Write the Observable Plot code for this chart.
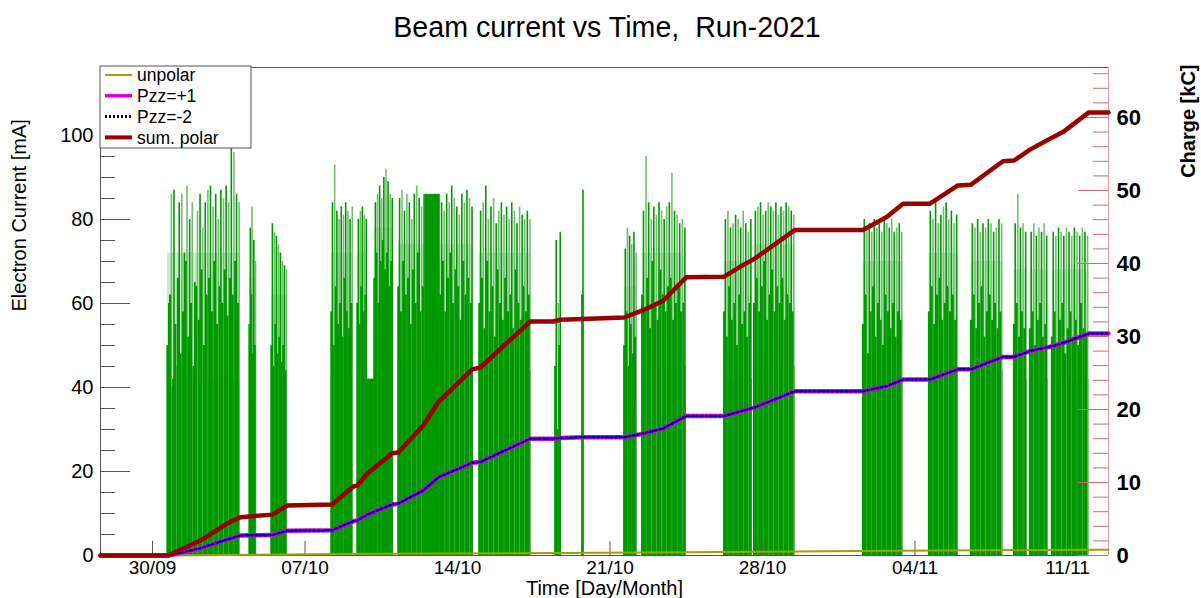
<!DOCTYPE html>
<html>
<head>
<meta charset="utf-8">
<script src="https://cdn.jsdelivr.net/npm/d3@7"></script>
<script src="https://cdn.jsdelivr.net/npm/@observablehq/plot@0.6"></script>
<style>
  body { margin: 0; background: #fff; font-family: "Liberation Sans", Arial, sans-serif; }
  #wrap { position: relative; width: 1201px; height: 598px; overflow: hidden; background: #fff; }
  #title { position: absolute; left: 0; top: 9px; width: 1188px; padding-left: 13px; text-align: center;
           font-size: 28.6px; line-height: 36px; white-space: pre; color: #000; }
  #chart { position: absolute; left: 0; top: 50px; }
  #legend { position: absolute; left: 99px; top: 65px; }
</style>
</head>
<body>
<div id="wrap">
  <div id="title">Beam current vs Time,  Run-2021</div>
  <div id="chart"></div>
  <svg id="legend" width="154" height="85"></svg>
</div>
<script>
// ---------------- data ----------------
const xDomain = ["2021-09-27T14:43", "2021-11-12T21:09"];
const mATicks = [0, 20, 40, 60, 80, 100];
const mAMinor = [5, 10, 15, 25, 30, 35, 45, 50, 55, 65, 70, 75, 85, 90, 95, 105, 110, 115];
const kCTicks = [0, 10, 20, 30, 40, 50, 60];
const kCMinor = [2, 4, 6, 8, 12, 14, 16, 18, 22, 24, 26, 28, 32, 34, 36, 38, 42, 44, 46, 48, 52, 54, 56, 58, 62, 64, 66];
const dateTicks = ["2021-09-30", "2021-10-07", "2021-10-14", "2021-10-21", "2021-10-28", "2021-11-04", "2021-11-11"];
const dateLabels = ["30/09", "07/10", "14/10", "21/10", "28/10", "04/11", "11/11"];

// beam-on blocks (electron current, mA)
const blockStart = ["2021-09-30T16:30","2021-10-04T10:48","2021-10-05T11:00","2021-10-08T05:04","2021-10-09T09:42","2021-10-09T20:41","2021-10-10T04:24","2021-10-11T06:49","2021-10-12T12:33","2021-10-13T05:04","2021-10-15T00:00","2021-10-18T11:40","2021-10-19T17:24","2021-10-21T15:38","2021-10-22T11:27","2021-10-26T05:44","2021-10-27T14:45","2021-11-01T14:45","2021-11-04T15:24","2021-11-06T13:40","2021-11-08T13:00","2021-11-09T06:36","2021-11-10T06:49"];
const blockEnd   = ["2021-10-04T00:53","2021-10-04T18:29","2021-10-06T04:38","2021-10-09T05:17","2021-10-09T20:41","2021-10-10T04:24","2021-10-11T01:19","2021-10-12T12:33","2021-10-13T05:04","2021-10-14T17:24","2021-10-17T09:14","2021-10-18T18:16","2021-10-19T19:03","2021-10-22T05:57","2021-10-24T11:53","2021-10-27T12:33","2021-10-29T11:53","2021-11-03T10:48","2021-11-05T23:20","2021-11-08T00:53","2021-11-09T03:19","2021-11-10T02:25","2021-11-11T23:34"];
const blockDense = [42, 36, 34, 42, 45, 42, 52, 46, 86, 46, 44, 0, 62, 36, 45, 42, 45, 42, 45, 44, 42, 42, 42];
const blockHaze  = [72, 66, 62, 72, 72, 42, 78, 74, 86, 74, 72, 0, 62, 64, 72, 70, 74, 70, 72, 70, 68, 68, 68];
const blockPeaks = [
  [60,86,87,45,84,86,72,88,80,84,65,82,86,78,84,87,88,83,86,80,87,85,88,84,97,96,86,84],
  [78,83,75,70],
  [79,77,76,74,72,70,69,68],
  [84,93,82,80,83,81,84,82,80,83],
  [80,82,83,81,80],
  [],
  [84,86,88,85,90,92,89,86,85],
  [85,87,82,86,84,80,86,88,85,83,86],
  [],
  [84,82,86,84,88,85,83,81,86,84,87,85,83],
  [82,84,88,80,83,85,79,82,84,81,83,80,84,82,79,83,81,80,82,80],
  [75,60,77],
  [87],
  [73,78,76,74,77,72],
  [82,95,84,80,83,81,84,82,80,83,84,91,82,81,79,80,78],
  [80,82,78,79,81,80,78,82,79,77,80],
  [82,83,84,81,82,84,83,82,84,81,83,82,84,83,82,81],
  [80,78,79,77,80,78,79,77,80,79,78,80,77,78,79,77],
  [82,80,84,79,81,83,84,80,82,79,81],
  [79,78,80,77,79,78,80,79,77,78,80,79],
  [79,86,78,79,77],
  [77,79,76,78,77,79,76],
  [77,76,78,77,76,78,77,76,78,77,76,78,77,76]
];
const blockLows = [
  [50,62,40,55,66,48,58,70,52,60,45,64,56,68,50,62,66,58,70,55,64,60,68,57,66,62,70,60],
  [55,62,48,50],
  [50,45,55,48,52,46,50,44],
  [58,50,64,55,60,52,66,58,54,60],
  [60,55,64,58,62],
  [],
  [66,72,60,70,75,68,72,64,70],
  [64,58,70,62,66,55,68,60,72,58,64],
  [],
  [62,70,58,66,72,60,68,64,56,70,62,66,60],
  [60,66,54,70,58,64,52,68,60,56,66,58,62,54,68,60,56,64,58,62],
  [45,30,50],
  [62],
  [50,58,45,55,48,52],
  [62,58,66,54,70,60,56,68,62,58,64,66,56,60,64,58,60],
  [58,52,64,56,60,50,62,55,58,52,60],
  [60,66,58,64,70,56,62,68,58,64,60,66,56,62,60,58],
  [55,62,48,58,64,52,60,56,50,62,58,54,60,52,58,56],
  [58,64,55,62,66,56,60,64,58,62,56],
  [56,62,54,60,64,52,58,62,56,60,54,58],
  [55,60,52,58,54],
  [54,58,50,56,60,52,55],
  [52,58,50,56,60,48,54,58,52,56,50,60,54,52]
];

// integrated charge (kC)
const chargeTime = ["2021-09-27T14:43","2021-09-30T17:30","2021-10-02T04:50","2021-10-03T10:34","2021-10-04T00:53","2021-10-05T12:07","2021-10-06T04:38","2021-10-08T06:10","2021-10-09T05:17","2021-10-09T09:42","2021-10-09T20:41","2021-10-11T00:13","2021-10-11T06:49","2021-10-12T10:20","2021-10-13T02:51","2021-10-14T16:17","2021-10-15T01:06","2021-10-17T08:08","2021-10-18T09:27","2021-10-18T17:10","2021-10-19T17:24","2021-10-21T15:38","2021-10-22T12:33","2021-10-23T10:34","2021-10-24T11:53","2021-10-26T05:44","2021-10-27T01:32","2021-10-27T15:50","2021-10-29T11:53","2021-11-01T14:45","2021-11-02T17:11","2021-11-03T10:48","2021-11-04T16:30","2021-11-05T23:20","2021-11-06T13:40","2021-11-08T00:53","2021-11-08T13:00","2021-11-09T06:36","2021-11-10T04:38","2021-11-10T18:56","2021-11-11T23:34","2021-11-12T21:09"];
const sumPolar = [0,0,2.05,4.4,5.25,5.6,6.85,7.0,9.45,9.6,11.2,14.0,14.1,17.8,21.0,25.5,25.75,32.05,32.05,32.3,32.4,32.6,33.6,34.9,38.1,38.2,39.7,40.7,44.6,44.6,46.4,48.2,48.2,50.7,50.8,54.0,54.1,55.6,57.1,58.0,60.7,60.7];
const pzzPlus1 = [0,0,1.0,2.2,2.75,2.8,3.4,3.45,4.7,4.8,5.6,7.0,7.1,8.9,10.7,12.7,12.8,16.0,16.0,16.1,16.2,16.2,16.7,17.4,19.1,19.1,19.8,20.3,22.5,22.5,23.2,24.1,24.1,25.5,25.5,27.2,27.2,28.0,28.6,29.1,30.4,30.4];
const pzzMinus2 = [0,0,1.0,2.2,2.75,2.8,3.4,3.45,4.7,4.8,5.6,7.0,7.1,8.9,10.7,12.7,12.8,16.0,16.0,16.1,16.2,16.2,16.7,17.4,19.1,19.1,19.8,20.3,22.5,22.5,23.2,24.1,24.1,25.5,25.5,27.2,27.2,28.0,28.6,29.1,30.4,30.4];
const unpolarTime = ["2021-09-27T14:43","2021-09-30T17:30","2021-10-10T11:00","2021-10-18T17:00","2021-10-27T23:30","2021-11-01T12:00","2021-11-11T23:34","2021-11-12T21:09"];
const unpolar = [0, 0, 0.25, 0.35, 0.5, 0.6, 0.8, 0.8];

const legendLabels = ["unpolar", "Pzz=+1", "Pzz=-2", "sum. polar"];

// ---------------- build ----------------
const T = s => new Date(s.length > 10 ? s + "Z" : s + "T00:00Z");
const W = 1201, H = 548, mL = 100, mR = 93, mT = 17, mB = 43;
const innerW = W - mL - mR, innerH = H - mT - mB;
const yMaxMA = 116.2, yMaxKC = 66.85;
const kc2ma = yMaxMA / yMaxKC;

const blocks = blockStart.map((s, i) => ({x1: T(s), x2: T(blockEnd[i]), dense: blockDense[i], haze: blockHaze[i]}));
const spikes = [], lows = [];
blocks.forEach((b, i) => {
  const n = blockPeaks[i].length;
  blockPeaks[i].forEach((v, j) => {
    spikes.push({t: new Date(+b.x1 + (j + 0.5) * (b.x2 - b.x1) / n), v, k: j % 2});
  });
  const m = blockLows[i].length;
  blockLows[i].forEach((v, j) => {
    lows.push({t: new Date(+b.x1 + j * (b.x2 - b.x1) / m), v});
  });
});
const charge = chargeTime.map((s, i) => ({t: T(s), sum: sumPolar[i], p1: pzzPlus1[i], m2: pzzMinus2[i]}));
const unp = unpolarTime.map((s, i) => ({t: T(s), v: unpolar[i]}));
const x0 = T(xDomain[0]), x1 = T(xDomain[1]);

const chart = Plot.plot({
  width: W, height: H,
  marginLeft: mL, marginRight: mR, marginTop: mT, marginBottom: mB,
  style: {fontFamily: "'Liberation Sans', Arial, sans-serif", background: "#fff", color: "#000", overflow: "visible"},
  x: {type: "utc", domain: [x0, x1], axis: null},
  y: {domain: [0, yMaxMA], axis: null},
  marks: [
    // electron current
    Plot.rect(blocks, {x1: "x1", x2: "x2", y1: "dense", y2: "haze", fill: "#009900", fillOpacity: 0.2}),
    Plot.rect(blocks, {x1: "x1", x2: "x2", y1: 0, y2: "dense", fill: "#009900"}),
    Plot.ruleX(spikes.filter(d => d.k === 1), {x: "t", y1: 0, y2: "v", stroke: "#72bf72", strokeWidth: 1.6}),
    Plot.ruleX(spikes.filter(d => d.k === 0), {x: "t", y1: 0, y2: "v", stroke: "#009900", strokeWidth: 1.6}),
    Plot.ruleX(lows, {x: "t", y1: 0, y2: "v", stroke: "#009900", strokeWidth: 2.2}),
    // frame
    Plot.ruleY([0], {stroke: "#555"}),
    Plot.ruleY([yMaxMA], {stroke: "#555"}),
    Plot.ruleX([x0], {stroke: "#555"}),
    Plot.ruleX([x1], {stroke: "#e39a9a"}),
    // left axis ticks + labels
    Plot.tickY(mATicks, {y: d => d, stroke: "#555", insetRight: innerW - 30}),
    Plot.tickY(mAMinor, {y: d => d, stroke: "#555", insetRight: innerW - 15}),
    Plot.text(mATicks, {y: d => d, text: d => String(d), frameAnchor: "left", textAnchor: "end", dx: -7, fontSize: 20}),
    // right axis (charge)
    Plot.tickY(kCTicks, {y: d => d * kc2ma, stroke: "#d26a6a", insetLeft: innerW - 30}),
    Plot.tickY(kCMinor, {y: d => d * kc2ma, stroke: "#d26a6a", insetLeft: innerW - 15}),
    Plot.text(kCTicks, {y: d => d * kc2ma, text: d => String(d), frameAnchor: "right", textAnchor: "start", dx: 8, fontSize: 22, fontWeight: "bold"}),
    // bottom axis
    Plot.tickX(dateTicks, {x: d => T(d), stroke: "#555", insetTop: innerH - 14}),
    Plot.text(dateTicks, {x: d => T(d), text: (d, i) => dateLabels[i], frameAnchor: "bottom", lineAnchor: "top", dy: 5, fontSize: 19}),
    // charge curves
    Plot.line(unp, {x: "t", y: d => d.v * kc2ma, stroke: "#a0a000", strokeWidth: 2}),
    Plot.line(charge, {x: "t", y: d => d.p1 * kc2ma, stroke: "#dd00dd", strokeWidth: 4.5}),
    Plot.line(charge, {x: "t", y: d => d.m2 * kc2ma, stroke: "#000099", strokeWidth: 2.5, strokeDasharray: "2,2.5"}),
    Plot.line(charge, {x: "t", y: d => d.sum * kc2ma, stroke: "#990000", strokeWidth: 4.5}),
    // titles
    Plot.text(["Electron Current [mA]"], {frameAnchor: "left", rotate: -90, dx: -81, fontSize: 20}),
    Plot.text(["Charge [kC]"], {frameAnchor: "top-right", rotate: -90, textAnchor: "end", lineAnchor: "middle", dx: 80, dy: -3, fontSize: 20, fontWeight: "bold"}),
    Plot.text(["Time [Day/Month]"], {frameAnchor: "bottom", lineAnchor: "top", dy: 25, fontSize: 20})
  ]
});
document.getElementById("chart").append(chart);

// legend
const lg = d3.select("#legend");
lg.append("rect").attr("x", 1).attr("y", 1).attr("width", 151).attr("height", 82)
  .attr("fill", "#fff").attr("stroke", "#555").attr("stroke-width", 1);
const styles = [
  {stroke: "#a0a000", w: 2, dash: null},
  {stroke: "#dd00dd", w: 3.5, dash: null},
  {stroke: "#000099", w: 3, dash: "2,2"},
  {stroke: "#990000", w: 4, dash: null}
];
legendLabels.forEach((lab, i) => {
  const cy = 10 + i * 20.8;
  lg.append("line").attr("x1", 6).attr("x2", 33).attr("y1", cy).attr("y2", cy)
    .attr("stroke", styles[i].stroke).attr("stroke-width", styles[i].w)
    .attr("stroke-dasharray", styles[i].dash);
  lg.append("text").attr("x", 38).attr("y", cy).attr("dy", "0.35em")
    .attr("font-family", "'Liberation Sans', Arial, sans-serif").attr("font-size", 17.5).text(lab);
});
</script>
</body>
</html>
